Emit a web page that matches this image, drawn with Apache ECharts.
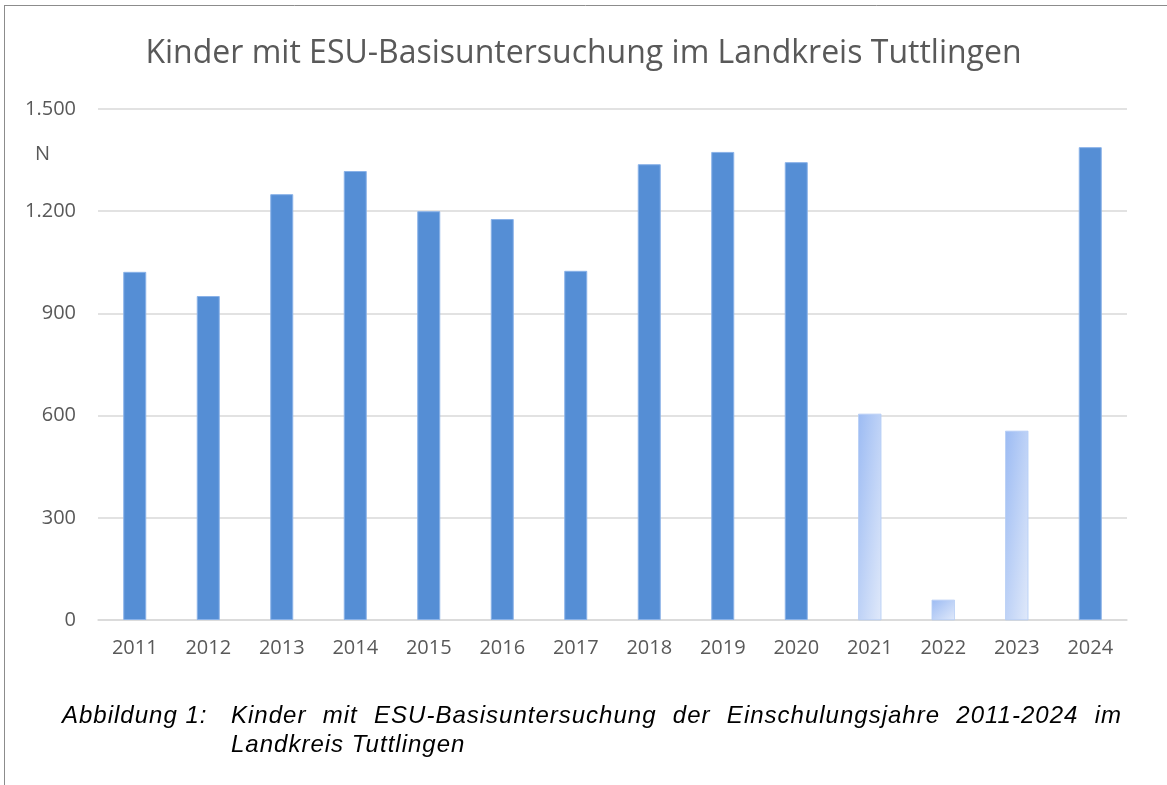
<!DOCTYPE html>
<html>
<head>
<meta charset="utf-8">
<script src="https://cdn.jsdelivr.net/npm/echarts@6/dist/echarts.min.js"></script>
<style>
  html, body { margin: 0; padding: 0; background: #fff; }
  #chart { position: absolute; left: 0; top: 0; width: 1167px; height: 785px; }
  .cap { position: absolute; font-family: "Liberation Sans", Arial, sans-serif; font-style: italic; font-size: 24px; letter-spacing: 1px; color: #000; line-height: 30px; white-space: nowrap; }
  #capLabel { left: 62px; top: 700px; }
  #capLine1 { left: 231px; top: 700px; width: 891px; text-align: justify; text-align-last: justify; }
  #capLine2 { left: 231px; top: 729px; }
</style>
</head>
<body>
<div id="chart"></div>
<div class="cap" id="capLabel">Abbildung 1:</div>
<div class="cap" id="capLine1">Kinder mit ESU-Basisuntersuchung der Einschulungsjahre 2011-2024 im</div>
<div class="cap" id="capLine2">Landkreis Tuttlingen</div>
<script>
const titleText = 'Kinder mit ESU-Basisuntersuchung im Landkreis Tuttlingen';
const years = ['2011','2012','2013','2014','2015','2016','2017','2018','2019','2020','2021','2022','2023','2024'];
const counts = [1022, 951, 1250, 1318, 1200, 1177, 1025, 1338, 1374, 1344, 605, 59, 555, 1388];
const lightYears = ['2021','2022','2023'];
const yTicks = [0, 300, 600, 900, 1200, 1500];
const yUnit = 'N';

const solid = '#558ED5';
const gradStart = '#9CBBF3';
const gradEnd = '#E0E9FA';
const BAR_W = 23;

function shapeGradient(h) {
  // gradient that scales with the bar shape (diagonal in bar-relative space)
  const w = BAR_W;
  const x2 = 2 / (1 + (w * w) / (h * h));
  const y2 = 2 / (1 + (h * h) / (w * w));
  return new echarts.graphic.LinearGradient(0, 0, x2, y2, [
    { offset: 0, color: gradStart },
    { offset: 1, color: gradEnd }
  ]);
}

function buildData(pxHeight) {
  return counts.map((v, i) => ({
    value: v,
    itemStyle: lightYears.includes(years[i])
      ? { color: shapeGradient(Math.max(pxHeight(v), 1)), borderColor: '#B5CDF5', borderWidth: 0.5 }
      : { color: solid, borderColor: '#8AB2E8', borderWidth: 1 }
  }));
}

const chart = echarts.init(document.getElementById('chart'), null, { renderer: 'canvas' });
chart.setOption({
  animation: false,
  backgroundColor: '#fff',
  title: {
    text: titleText,
    left: 'center',
    top: 33,
    textStyle: { fontFamily: 'Open Sans', fontWeight: 'normal', fontSize: 32, color: '#595959' }
  },
  graphic: [
    { type: 'line', shape: { x1: 4.5, y1: 5, x2: 4.5, y2: 785 }, style: { stroke: '#8c8c8c', lineWidth: 1 } },
    { type: 'line', shape: { x1: 4, y1: 5.5, x2: 1167, y2: 5.5 }, style: { stroke: '#8c8c8c', lineWidth: 1 } },
    { type: 'text', left: 35, top: 144, style: { text: yUnit, fontFamily: 'Open Sans', fontSize: 20, fill: '#595959' } }
  ],
  grid: { left: 98, right: 40, top: 109, bottom: 165 },
  xAxis: {
    type: 'category',
    data: years,
    axisLine: { show: true, lineStyle: { color: '#d9d9d9', width: 1.5 } },
    axisTick: { show: false },
    axisLabel: { fontFamily: 'Open Sans', fontSize: 20, color: '#595959', margin: 18 }
  },
  yAxis: {
    type: 'value',
    min: yTicks[0],
    max: yTicks[yTicks.length - 1],
    interval: 300,
    axisLine: { show: false },
    axisTick: { show: false },
    splitLine: { lineStyle: { color: '#d9d9d9', width: 1.5 } },
    axisLabel: {
      fontFamily: 'Open Sans', fontSize: 20, color: '#595959', margin: 22,
      formatter: v => String(v).replace(/\B(?=(\d{3})+(?!\d))/g, '.')
    }
  },
  series: [{
    type: 'bar',
    barWidth: BAR_W,
    data: buildData(v => v * 511 / 1500)
  }]
});

// refine the gradients with the actual pixel scale of the y axis
const y0 = chart.convertToPixel({ yAxisIndex: 0 }, 0);
chart.setOption({
  series: [{ data: buildData(v => y0 - chart.convertToPixel({ yAxisIndex: 0 }, v)) }]
});
</script>
</body>
</html>
